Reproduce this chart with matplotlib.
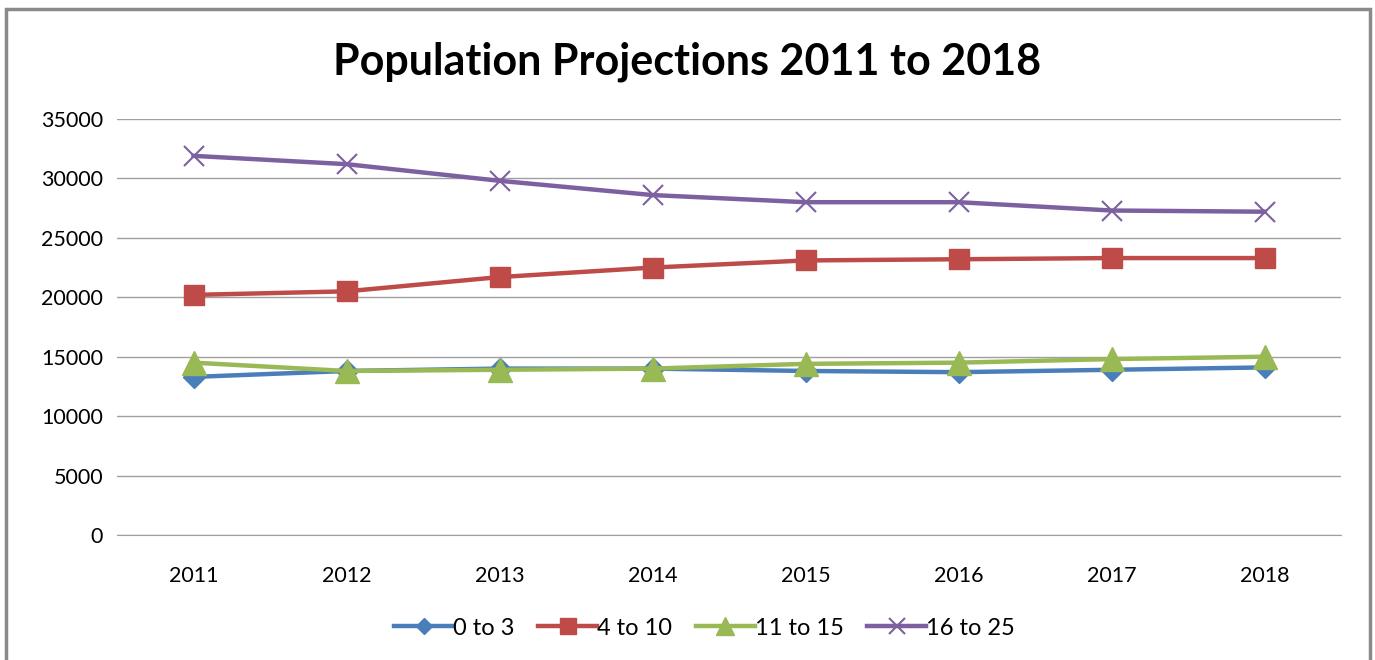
import matplotlib.pyplot as plt
from matplotlib.patches import Rectangle

years = ['2011', '2012', '2013', '2014', '2015', '2016', '2017', '2018']
age_0_3 = [13300, 13800, 14000, 14000, 13800, 13700, 13900, 14100]
age_4_10 = [20200, 20500, 21700, 22500, 23100, 23200, 23300, 23300]
age_11_15 = [14500, 13800, 13900, 14000, 14400, 14500, 14800, 15000]
age_16_25 = [31900, 31200, 29800, 28600, 28000, 28000, 27300, 27200]

plt.rcParams['font.family'] = ['Lato', 'DejaVu Sans']

fig = plt.figure(figsize=[13.75, 6.6], dpi=100)
ax = fig.add_axes([0.0851, 0.1894, 0.8902, 0.6303])

x = range(len(years))
ax.plot(x, age_0_3, color='#4A7EBB', lw=3.2, marker='D', ms=11, label='0 to 3')
ax.plot(x, age_4_10, color='#BE4B48', lw=3.2, marker='s', ms=15, label='4 to 10')
ax.plot(x, age_11_15, color='#98B954', lw=3.2, marker='^', ms=17, label='11 to 15')
ax.plot(x, age_16_25, color='#7D60A0', lw=3.2, marker='x', ms=15, mew=1.5, label='16 to 25')

ax.set_xlim(-0.5, 7.5)
ax.set_ylim(0, 35000)
ax.set_yticks(range(0, 35001, 5000))
ax.set_xticks(list(x))
ax.set_xticklabels(years)
ax.grid(axis='y', color='#A0A0A0', lw=1)
ax.set_axisbelow(True)
for s in ['top', 'right', 'left']:
    ax.spines[s].set_visible(False)
ax.spines['bottom'].set_color('#A0A0A0')
ax.tick_params(axis='both', length=0, labelsize=15.5)
ax.tick_params(axis='x', pad=22)
ax.tick_params(axis='y', pad=10)

fig.text(0.5, 0.907, 'Population Projections 2011 to 2018', ha='center', va='center',
         fontsize=31, fontweight='bold')

ax.legend(loc='center', bbox_to_anchor=(0.48, -0.224), ncol=4, frameon=False, fontsize=17,
          handlelength=2.5, handletextpad=0.0, columnspacing=1.0, markerscale=0.75)

fig.patches.append(Rectangle((0.004, -0.05), 0.992, 1.037, transform=fig.transFigure,
                             fill=False, edgecolor='#8A8A8A', lw=2.5))

plt.savefig('out.png')
